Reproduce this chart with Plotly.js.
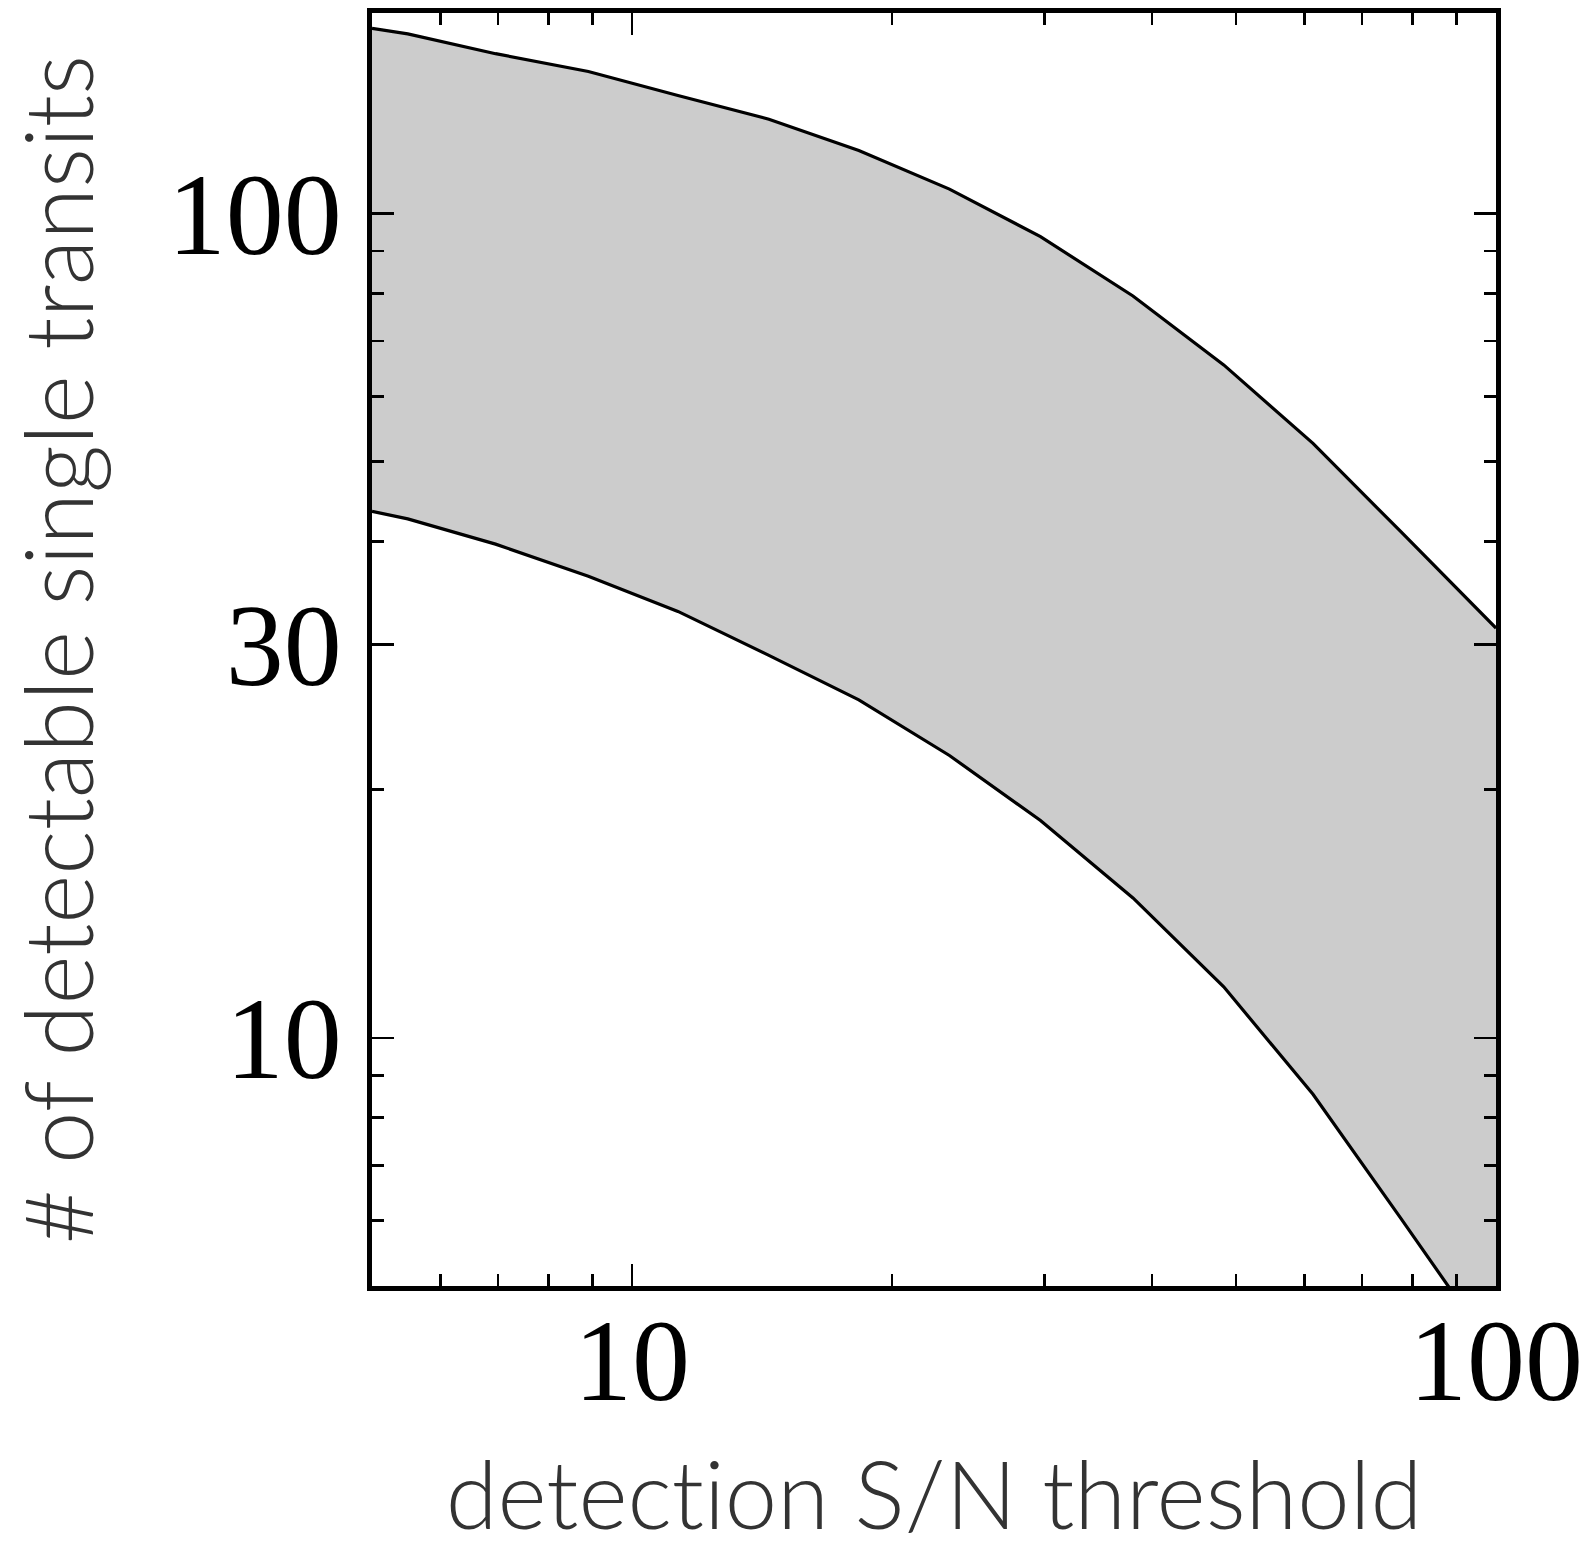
<!DOCTYPE html>
<html>
<head>
<meta charset="utf-8">
<script src="https://cdn.plot.ly/plotly-3.0.1.min.js"></script>
<style>
html,body{margin:0;padding:0;background:#fff;}
text{font-variant-ligatures:none;font-feature-settings:"liga" 0, "clig" 0;}
</style>
</head>
<body>
<div id="chart" style="width:1594px;height:1549px;"></div>
<script>
// detection S/N threshold
const snr = [5, 5.5, 6.95, 8.9, 11.3, 14.4, 18.3, 23.3, 29.7, 38.0, 48.4, 61.4, 77.6, 100];
// upper bound of number of detectable single transits
const upper = [167.7, 165.1, 156.2, 148.6, 139.0, 130.1, 119.2, 107.0, 93.7, 79.4, 65.5, 52.6, 41.1, 31.4];
// lower bound
const lower = [43.5, 42.6, 39.7, 36.3, 32.9, 29.1, 25.7, 22.0, 18.35, 14.78, 11.53, 8.54, 6.04, 4.13];

const xTickVals = [10, 100];
const xTickText = ['10', '100'];
const xMinor = [6, 7, 8, 9, 20, 30, 40, 50, 60, 70, 80, 90];
const yTickVals = [10, 30, 100];
const yTickText = ['10', '30', '100'];
const yMinor = [6, 7, 8, 9, 20, 40, 50, 60, 70, 80, 90];

const traces = [
  {x: snr, y: upper, type: 'scatter', mode: 'lines',
   line: {color: '#000', width: 3.2}, showlegend: false, hoverinfo: 'skip'},
  {x: snr, y: lower, type: 'scatter', mode: 'lines', fill: 'tonexty',
   fillcolor: '#cccccc', line: {color: '#000', width: 3.2}, showlegend: false, hoverinfo: 'skip'}
];

const tickFont = {family: '"Liberation Serif", "DejaVu Serif", serif', size: 116, color: '#000'};
const titleFont = {family: 'Lato, "Open Sans", sans-serif', size: 94, color: '#333333', weight: 300};

const layout = {
  width: 1594, height: 1549,
  margin: {l: 372, r: 98, t: 13, b: 263},
  paper_bgcolor: '#fff', plot_bgcolor: '#fff',
  showlegend: false,
  xaxis: {
    type: 'log', range: [Math.log10(5), 2],
    tickmode: 'array', tickvals: xTickVals, ticktext: xTickText,
    ticks: 'inside', ticklen: 22, tickwidth: 2.5, tickcolor: '#000',
    minor: {tickmode: 'array', tickvals: xMinor, ticks: 'inside', ticklen: 12, tickwidth: 2.5, tickcolor: '#000', showgrid: false},
    showline: true, linewidth: 5, linecolor: '#000', mirror: 'allticks',
    showgrid: false, zeroline: false,
    tickfont: tickFont, ticklabelstandoff: -30,
    title: {text: 'detection S/N threshold', font: titleFont, standoff: 52}
  },
  yaxis: {
    type: 'log', range: [Math.log10(5), Math.log10(175)],
    tickmode: 'array', tickvals: yTickVals, ticktext: yTickText,
    ticks: 'inside', ticklen: 22, tickwidth: 2.5, tickcolor: '#000',
    minor: {tickmode: 'array', tickvals: yMinor, ticks: 'inside', ticklen: 12, tickwidth: 2.5, tickcolor: '#000', showgrid: false},
    showline: true, linewidth: 5, linecolor: '#000', mirror: 'allticks',
    showgrid: false, zeroline: false,
    tickfont: tickFont, ticklabelstandoff: 2,
    title: {text: '# of detectable single transits', font: titleFont, standoff: 76}
  }
};

Plotly.newPlot('chart', traces, layout, {staticPlot: true, displayModeBar: false});
</script>
</body>
</html>
